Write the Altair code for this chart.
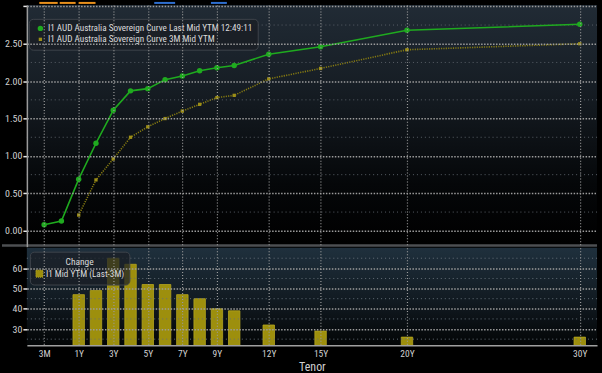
import altair as alt
import pandas as pd

# ---------------- data ----------------
tenors = ["3M", "6M", "1Y", "2Y", "3Y", "4Y", "5Y", "6Y", "7Y", "8Y", "9Y", "10Y", "12Y", "15Y", "20Y", "30Y"]
tenor_pos = [-1, 0, 1, 2, 3, 4, 5, 6, 7, 8, 9, 10, 12, 15, 20, 30]
last_ytm = [0.08, 0.13, 0.69, 1.17, 1.61, 1.87, 1.90, 2.02, 2.07, 2.14, 2.18, 2.21, 2.36, 2.46, 2.68, 2.76]
ytm_3m = [None, None, 0.21, 0.68, 0.96, 1.25, 1.39, 1.50, 1.60, 1.69, 1.78, 1.81, 2.03, 2.17, 2.42, 2.50]
change_bp = [None, None, 47, 49, 65, 62, 52, 52, 47, 45, 40, 39, 32, 29, 26, 26]

tick_pos = [-1, 1, 3, 5, 7, 9, 12, 15, 20, 30]
tick_labels = ["3M", "1Y", "3Y", "5Y", "7Y", "9Y", "12Y", "15Y", "20Y", "30Y"]
y_major = [0, 0.5, 1.0, 1.5, 2.0, 2.5, 3.0]
y_minor = [0.25, 0.75, 1.25, 1.75, 2.25, 2.75]
b_major = [30, 40, 50, 60]
b_minor = [25, 35, 45, 55, 65]

S1 = "I1 AUD Australia Sovereign Curve Last Mid YTM 12:49:11"
S2 = "I1 AUD Australia Sovereign Curve 3M Mid YTM"
S3 = "I1 Mid YTM (Last-3M)"

rows = []
for t, p, a, b in zip(tenors, tenor_pos, last_ytm, ytm_3m):
    rows.append({"tenor": t, "pos": p, "series": S1, "value": a})
    if b is not None:
        rows.append({"tenor": t, "pos": p, "series": S2, "value": b})
curve = pd.DataFrame(rows)
bars = pd.DataFrame({"tenor": tenors, "pos": tenor_pos, "chg": change_bp, "label": S3}).dropna()

FONT = "Roboto Condensed, Liberation Sans Narrow, DejaVu Sans Condensed, Arial Narrow, sans-serif"
GREEN = "#1faa1f"
OLIVE_LINE = "#857a12"
OLIVE_PT = "#9c8e18"
BAR = "#9d8f0d"
BAR_EDGE = "#b5a620"
W = 573
H1 = 243
H2 = 98

label_expr = "%s[indexof(%s, datum.value)]" % (
    "[" + ",".join("'%s'" % s for s in tick_labels) + "]",
    "[" + ",".join(str(v) for v in tick_pos) + "]",
)

xscale = alt.Scale(domain=[-2, 31], nice=False, zero=False, padding=0)
yscale_top = alt.Scale(domain=[-0.213, 3.019], nice=False, zero=False)
bscale = alt.Scale(domain=[22, 70.2], nice=False, zero=False)

one = alt.Data(values=[{"k": 1}])

# ---------------- top panel ----------------
bg_top = alt.Chart(one).mark_rect(
    fill=alt.Gradient(gradient="linear", x1=0, x2=0, y1=0, y2=1,
                      stops=[alt.GradientStop(offset=0, color="#212b35"),
                             alt.GradientStop(offset=0.35, color="#161d24"),
                             alt.GradientStop(offset=0.75, color="#050709"),
                             alt.GradientStop(offset=1, color="#000000")])
).encode(x=alt.value(0), x2=alt.value(W), y=alt.value(0), y2=alt.value(240))

sep = alt.Chart(one).mark_rule(color="#4d4f52", strokeWidth=2.5).encode(
    x=alt.value(-25), x2=alt.value(W), y=alt.value(H1 - 1.2))

decor = []
for x0, x1, c in [(12.5, 31, "#e8901c"), (33, 49, "#e8901c"), (52, 69, "#e8901c"),
                  (128, 149, "#2f6fd0"), (185, 201, "#2f6fd0")]:
    decor.append(alt.Chart(one).mark_rect(color=c).encode(
        x=alt.value(x0), x2=alt.value(x1), y=alt.value(-3), y2=alt.value(-1)))

xy_top = alt.X("pos:Q", scale=xscale,
               axis=alt.Axis(values=tick_pos, labels=False, ticks=False, domain=False, title=None,
                             grid=True, gridColor="#9a9a9a", gridDash=[1, 2], gridWidth=1.2,
                             minExtent=0, maxExtent=0, zindex=1))
yy_top = alt.Y("value:Q", scale=yscale_top,
               axis=alt.Axis(values=y_major, title=None, labelOverlap=False, labelFontSize=10,
                             labelExpr="datum.value >= 3 ? '' : format(datum.value, '.2f')",
                             grid=True, gridColor="#9c9c9c", gridDash=[1.5, 1.5], gridWidth=1.5,
                             domainColor="#9a9a9a", domainWidth=1.5, tickColor="#e8e8e8", tickSize=4,
                             tickWidth=1.5, labelPadding=1, minExtent=22, maxExtent=22, zindex=1))

yminor_top = alt.Chart(alt.Data(values=[{"value": v} for v in y_minor])).mark_rule(
    color="#5a6068", strokeDash=[1, 3], strokeWidth=1).encode(y=yy_top)

line_last = alt.Chart(curve).transform_filter(alt.datum.series == S1).mark_line(
    color=GREEN, strokeWidth=1.6).encode(x=xy_top, y=yy_top)
line_3m = alt.Chart(curve).transform_filter(alt.datum.series == S2).mark_line(
    color=OLIVE_LINE, strokeWidth=1.6, strokeDash=[1.2, 1.2]).encode(x=xy_top, y=yy_top)

top_legend = alt.Legend(title=None, orient="none", legendX=2, legendY=14, direction="vertical",
                        fillColor="rgba(26,31,38,0.88)", strokeColor="#3e444b", cornerRadius=4,
                        padding=5, rowPadding=1, labelFont=FONT, labelFontSize=9.2,
                        labelColor="#dcdcdc", symbolOffset=2, labelOffset=3, labelLimit=400,
                        symbolStrokeWidth=0)
pts = alt.Chart(curve).mark_point(filled=True, opacity=1).encode(
    x=xy_top, y=yy_top,
    color=alt.Color("series:N", scale=alt.Scale(domain=[S1, S2], range=[GREEN, OLIVE_PT]), legend=top_legend),
    shape=alt.Shape("series:N", scale=alt.Scale(domain=[S1, S2], range=["circle", "square"]), legend=top_legend),
    size=alt.Size("series:N", scale=alt.Scale(domain=[S1, S2], range=[30, 11]), legend=top_legend),
)

top = alt.layer(bg_top, *decor, line_3m, yminor_top, line_last, pts, sep).properties(width=W, height=H1)

# ---------------- bottom panel ----------------
bg_bot = alt.Chart(one).mark_rect(
    fill=alt.Gradient(gradient="linear", x1=0, x2=0, y1=0, y2=1,
                      stops=[alt.GradientStop(offset=0, color="#1f303d"),
                             alt.GradientStop(offset=0.55, color="#111a21"),
                             alt.GradientStop(offset=1, color="#030506")])
).encode(x=alt.value(0), x2=alt.value(W), y=alt.value(0), y2=alt.value(H2))

xx_bot = alt.X("pos:Q", scale=xscale,
               axis=alt.Axis(values=tick_pos, labelExpr=label_expr, ticks=False, title="Tenor",
                             grid=True, gridColor="#9a9a9a", gridDash=[1, 2], gridWidth=1.2,
                             domainColor="#a0a0a0", domainWidth=1.5, labelFont=FONT, labelFontSize=9.5,
                             labelColor="#d0d0d0", labelPadding=3, labelOverlap=False, titleFont=FONT,
                             titleFontSize=12, titleFontWeight="normal", titleColor="#d0d0d0",
                             titlePadding=4, zindex=1))
yy_bot = alt.Y("chg:Q", scale=bscale,
               axis=alt.Axis(values=b_major, title=None, grid=True, gridColor="#9c9c9c",
                             gridDash=[1.5, 1.5], gridWidth=1.5, domain=False, tickColor="#e8e8e8",
                             tickSize=4, tickWidth=1.5, labelPadding=1, labelOverlap=False,
                             labelFontSize=10, minExtent=22, maxExtent=22, zindex=1))

bminor = alt.Chart(alt.Data(values=[{"chg": v} for v in b_minor])).mark_rule(
    color="#66707a", strokeDash=[1, 3], strokeWidth=1).encode(y=yy_bot)

bot_legend = alt.Legend(title="Change", orient="none", legendX=3, legendY=4,
                        fillColor="rgba(26,31,38,0.72)", strokeColor="#3e444b", cornerRadius=4,
                        padding=5, titleFont=FONT, titleFontSize=9.5, titleFontWeight="normal",
                        titleColor="#dcdcdc", titleAlign="center", titleAnchor="middle", titlePadding=3,
                        labelFont=FONT, labelFontSize=9.2, labelColor="#dcdcdc", labelLimit=300,
                        symbolType="square", symbolSize=50, symbolFillColor="transparent",
                        symbolDash=[1, 1], symbolStrokeWidth=1, labelOffset=2)

barchart = alt.Chart(bars).mark_bar(width=11.5, fill=BAR, strokeWidth=0.8, clip=True).encode(
    x=xx_bot, y=yy_bot,
    stroke=alt.Stroke("label:N", scale=alt.Scale(domain=[S3], range=[BAR_EDGE]), legend=bot_legend),
)

bottom = alt.layer(bg_bot, barchart, bminor).properties(width=W, height=H2)

chart = alt.vconcat(top, bottom, spacing=0).resolve_scale(
    color="independent", shape="independent", size="independent", stroke="independent",
    x="independent", y="independent"
).properties(
    padding={"left": 0, "top": 0, "right": 3, "bottom": 2},
    background="#000000",
).configure_view(stroke=None).configure_axis(
    labelFont=FONT, labelFontSize=9, labelColor="#d0d0d0"
)

chart.save("out.html", embed_options={"renderer": "svg", "actions": False})
